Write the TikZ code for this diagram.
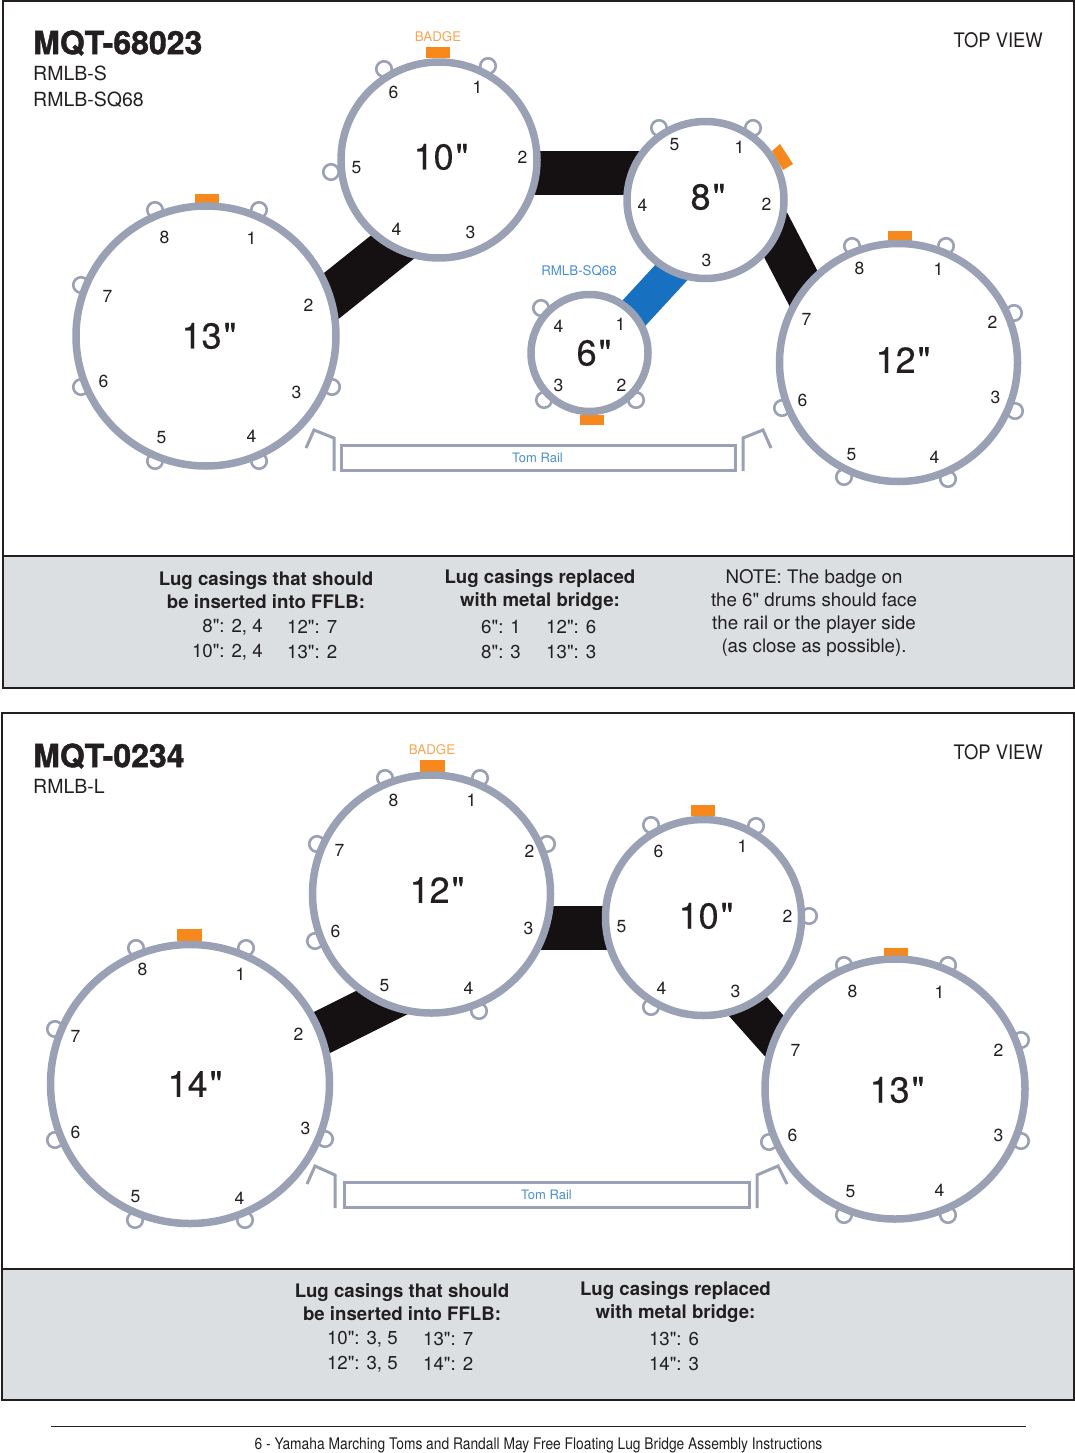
\documentclass[tikz,border=0pt]{standalone}
\usepackage{fontspec}
\setmainfont[Ligatures=TeXOff]{TeX Gyre Heros}
\newfontfamily\heavyfont[BoldFeatures={FakeBold=1.3}]{TeX Gyre Heros}
\newfontfamily\condfont[FakeStretch=0.863]{TeX Gyre Heros}
\newfontfamily\viewfont[FakeStretch=0.92]{TeX Gyre Heros}
\newfontfamily\sizefont[Ligatures=TeXOff,FakeBold=0.4]{TeX Gyre Heros}
\definecolor{ringc}{HTML}{9AA1B5}
\definecolor{badgec}{HTML}{F7891C}
\definecolor{badgetext}{HTML}{F9A556}
\definecolor{bluebr}{HTML}{1870C0}
\definecolor{bluetext}{HTML}{4A90D0}
\definecolor{panelc}{HTML}{DBDFE1}
\definecolor{ink}{HTML}{231F20}
\definecolor{bridgec}{HTML}{151112}
\tikzset{
 drum/.style={circle,draw=ringc,fill=white,line width=7.5pt,inner sep=0pt,outer sep=0pt,minimum size=#1},
 lug/.style={circle,draw=ringc,fill=white,line width=2.6pt,inner sep=0pt,minimum size=15.5pt},
 num/.style={font=\fontsize{17.5}{20}\selectfont,text=ink,inner sep=0pt,xshift=0.5pt},
 size/.style={font=\sizefont\fontsize{36}{40}\selectfont,text=ink,inner sep=0pt},
 badge/.style={fill=badgec,draw=none},
 bridge/.style={draw=bridgec,line width=#1},
 bluebridge/.style={draw=bluebr,line width=#1},
 railbox/.style={draw=ringc,line width=3pt,fill=white,inner sep=0pt,text=bluetext,font=\fontsize{13}{15}\selectfont},
 railarm/.style={draw=ringc,line width=3pt,line join=miter},
 frame/.style={draw=ink,line width=2.8pt},
 title/.style={anchor=west,inner sep=0pt,text=ink,font=\heavyfont\bfseries\fontsize{32}{36}\selectfont},
 model/.style={anchor=west,inner sep=0pt,text=ink,font=\fontsize{19.5}{24}\selectfont},
 view/.style={anchor=east,inner sep=0pt,text=ink,font=\viewfont\fontsize{20}{24}\selectfont},
 small/.style={inner sep=0pt,font=\fontsize{13.3}{16}\selectfont},
 head/.style={align=center,inner sep=0pt,text=ink,font=\bfseries\fontsize{18.65}{23}\selectfont},
 body/.style={inner sep=0pt,text=ink,font=\fontsize{18.7}{23}\selectfont},
}
\newcommand{\dsize}[1]{#1\kern2pt"}
\begin{document}
\begin{tikzpicture}[x=1pt,y=-1pt]
\useasboundingbox (0,0) rectangle (1075,1453);
\fill[white] (0,0) rectangle (1075,1453);
% panels
\fill[panelc] (3,556) rectangle (1074,688);
\draw[frame] (3,1) rectangle (1074,688);
\draw[frame] (3,556) -- (1074,556);
\fill[panelc] (2,1269) rectangle (1074,1400);
\draw[frame] (2,713) rectangle (1074,1400);
\draw[frame] (2,1269) -- (1074,1269);
% ---------- first diagram: bridge ends
\coordinate (e1a) at (300,321); \coordinate (e1b) at (410,233);
\coordinate (e2a) at (500,173); \coordinate (e2b) at (680,173);
\coordinate (e3a) at (758,201); \coordinate (e3b) at (824,328);
\coordinate (e4a) at (693,249); \coordinate (e4b) at (611,338);
\draw[bridge=45pt] (e1a) -- (e1b);
\draw[bridge=44pt] (e2a) -- (e2b);
\draw[bridge=41pt] (e3a) -- (e3b);
\draw[bluebridge=34pt] (e4a) -- (e4b);
% badges
\fill[badge] (195,194) rectangle (219,205);
\fill[badge] (426,47) rectangle (450,58);
\fill[badge] (772,151) -- (780,144) -- (793,164) -- (783,170) -- cycle;
\fill[badge] (580,415) rectangle (604,425);
\fill[badge] (888,231) rectangle (912,242);
% lugs
\foreach \x/\y [count=\i] in {155/210,259/210,81/285,81/387,155/461,259/461,332/387}
  \node[lug] (pa13l\i) at (\x,\y) {};
\foreach \x/\y [count=\i] in {384/69,488/66,331/172}
  \node[lug] (pa10l\i) at (\x,\y) {};
\foreach \x/\y [count=\i] in {659/128,753/128}
  \node[lug] (pa8l\i) at (\x,\y) {};
\foreach \x/\y [count=\i] in {541/308,544/400,636/400}
  \node[lug] (pa6l\i) at (\x,\y) {};
\foreach \x/\y [count=\i] in {852/246,946/246,1014/313,1015/411,948/479,844/477,782/408}
  \node[lug] (pa12l\i) at (\x,\y) {};
% drums
\node[drum=260pt] (pa13) at (206,336) {};
\node[drum=196pt] (pa10) at (439,160) {};
\node[drum=157pt] (pa8) at (705.5,200) {};
\node[drum=117pt] (pa6) at (589.5,353) {};
\node[drum=238pt] (pa12) at (898.5,362.5) {};
% size labels
\node[size] (pa13t) at (209,336) {\dsize{13}};
\node[size] (pa10t) at (441,157) {\dsize{10}};
\node[size] (pa8t) at (708,197) {\dsize{8}};
\node[size] (pa6t) at (594,353) {\dsize{6}};
\node[size] (pa12t) at (903,360) {\dsize{12}};
% lug numbers
\foreach \t/\x/\y in {8/164/237,1/251/238,2/308/305,3/296/392,4/251/436,5/161/438,6/103/381,7/107/296}
  \node[num] (pa13n\t) at (\x,\y) {\t};
\foreach \t/\x/\y in {6/393/92,1/477/87,2/522/157,3/470/232,4/396/229,5/356/168}
  \node[num] (pa10n\t) at (\x,\y) {\t};
\foreach \t/\x/\y in {5/674/145,1/739/147,2/766/204,3/706/260,4/642/205}
  \node[num] (pa8n\t) at (\x,\y) {\t};
\foreach \t/\x/\y in {4/558/326,1/620/324,2/621/385,3/558/385}
  \node[num] (pa6n\t) at (\x,\y) {\t};
\foreach \t/\x/\y in {8/859/268,1/938/269,2/992/322,3/995/397,4/934/457,5/851/455,6/802/400,7/806/319}
  \node[num] (pa12n\t) at (\x,\y) {\t};
% rail
\node[railbox,minimum width=394pt,minimum height=25pt] (raila) at (538.5,457.5) {\kern-2pt Tom Rail};
\draw[railarm] (306,448) -- (314,430) -- (334,438) -- (334,471);
\draw[railarm] (743,471) -- (743,438) -- (763,430) -- (771,448);
% texts
\node[title] (ta1) at (33,43) {MQT-68023};
\node[model] (ta2) at (33,73) {RMLB-S};
\node[model] (ta3) at (33,100) {RMLB-SQ68};
\node[view] (ta4) at (1043,40) {TOP VIEW};
\node[small,text=badgetext] (ta5) at (438,37) {BADGE};
\node[small,text=bluetext] (ta6) at (579,271) {RMLB-SQ68};
\node[head] (ta7) at (266,590.5) {Lug casings that should\\be inserted into FFLB:};
\node[body,anchor=east] (ta8) at (263,627) {8": 2, 4};
\node[body,anchor=west] (ta9) at (287,627) {12": 7};
\node[body,anchor=east] (ta10) at (263,652) {10": 2, 4};
\node[body,anchor=west] (ta11) at (287,652) {13": 2};
\node[head] (ta12) at (540,590.5) {Lug casings replaced\\with metal bridge:};
\node[body,anchor=east] (ta13) at (521,627) {6": 1};
\node[body,anchor=west] (ta14) at (546,627) {12": 6};
\node[body,anchor=east] (ta15) at (521,652) {8": 3};
\node[body,anchor=west] (ta16) at (546,652) {13": 3};
\node[body,align=center] (ta17) at (814,613.5) {NOTE: The badge on\\the 6" drums should face\\the rail or the player side\\(as close as possible).};
% ---------- second diagram: bridge ends
\coordinate (f1a) at (283,1052); \coordinate (f1b) at (423,982);
\coordinate (f2a) at (520,928); \coordinate (f2b) at (640,928);
\coordinate (f3a) at (720,975); \coordinate (f3b) at (800,1065);
\draw[bridge=44pt] (f1a) -- (f1b);
\draw[bridge=44pt] (f2a) -- (f2b);
\draw[bridge=41pt] (f3a) -- (f3b);
\fill[badge] (177,929) rectangle (202,941);
\fill[badge] (420,760) rectangle (445,772);
\fill[badge] (691,805) rectangle (715,816);
\fill[badge] (884,948) rectangle (908,959);
\foreach \x/\y [count=\i] in {136/948,246/948,55/1029,55/1140,135/1220,245/1220,325/1139}
  \node[lug] (pb14l\i) at (\x,\y) {};
\foreach \x/\y [count=\i] in {385/778,480/778,317/844,547/844,315/941,479/1011}
  \node[lug] (pb12l\i) at (\x,\y) {};
\foreach \x/\y [count=\i] in {651/825,756/826,809/916,651/1007}
  \node[lug] (pb10l\i) at (\x,\y) {};
\foreach \x/\y [count=\i] in {844/965,948/965,1021/1040,1021/1141,948/1215,844/1215,769/1142}
  \node[lug] (pb13l\i) at (\x,\y) {};
\node[drum=279pt] (pb14) at (190,1084) {};
\node[drum=238pt] (pb12) at (431.5,894) {};
\node[drum=196pt] (pb10) at (703.5,917.5) {};
\node[drum=260pt] (pb13) at (895,1089) {};
\node[size] (pb14t) at (195,1084) {\dsize{14}};
\node[size] (pb12t) at (437,890) {\dsize{12}};
\node[size] (pb10t) at (706,916) {\dsize{10}};
\node[size] (pb13t) at (897,1090) {\dsize{13}};
\foreach \t/\x/\y in {8/142/969,1/240/974,2/298/1034,3/305/1128,4/239/1198,5/135/1197,6/75/1132,7/75/1036}
  \node[num] (pb14n\t) at (\x,\y) {\t};
\foreach \t/\x/\y in {8/393/800,1/471/800,2/529/851,3/528/928,4/468/988,5/384/986,6/335/931,7/339/850}
  \node[num] (pb12n\t) at (\x,\y) {\t};
\foreach \t/\x/\y in {6/658/851,1/742/846,2/787/916,3/735/991,4/661/988,5/621/927}
  \node[num] (pb10n\t) at (\x,\y) {\t};
\foreach \t/\x/\y in {8/852/991,1/939/992,2/998/1050,3/998/1135,4/939/1190,5/850/1192,6/792/1135,7/795/1050}
  \node[num] (pb13n\t) at (\x,\y) {\t};
\node[railbox,minimum width=405pt,minimum height=25pt] (railb) at (546.5,1194.5) {Tom Rail};
\draw[railarm] (307,1184) -- (315,1166) -- (335,1175) -- (335,1208);
\draw[railarm] (757,1208) -- (757,1175) -- (778,1166) -- (787,1184);
\node[title] (tb1) at (33,756) {MQT-0234};
\node[model] (tb2) at (33,786) {RMLB-L};
\node[view] (tb4) at (1043,752) {TOP VIEW};
\node[small,text=badgetext] (tb5) at (432,750) {BADGE};
\node[head] (tb7) at (402,1302.5) {Lug casings that should\\be inserted into FFLB:};
\node[body,anchor=east] (tb8) at (398,1339) {10": 3, 5};
\node[body,anchor=west] (tb9) at (423,1339) {13": 7};
\node[body,anchor=east] (tb10) at (398,1364) {12": 3, 5};
\node[body,anchor=west] (tb11) at (423,1364) {14": 2};
\node[head] (tb12) at (675.5,1302.5) {Lug casings replaced\\with metal bridge:};
\node[body] (tb13) at (674,1339) {13": 6};
\node[body] (tb14) at (674,1364) {14": 3};
% footer
\coordinate (fa) at (51,1426); \coordinate (fb) at (1026,1426);
\draw[ink,line width=1pt] (fa) -- (fb);
\node[inner sep=0pt,text=ink,font=\condfont\fontsize{16}{18}\selectfont] (foot) at (538.5,1445) {6 - Yamaha Marching Toms and Randall May Free Floating Lug Bridge Assembly Instructions};
\end{tikzpicture}
\end{document}
